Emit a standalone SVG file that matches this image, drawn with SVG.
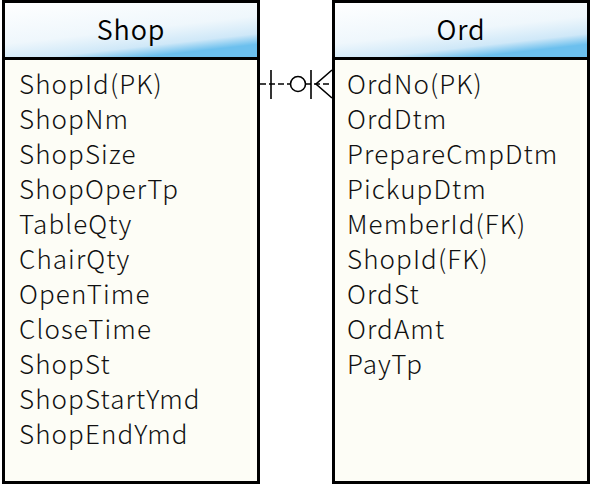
<svg xmlns="http://www.w3.org/2000/svg" width="591" height="486" viewBox="0 0 591 486">
<style>
.box{fill:#fdfdf6;stroke:#000;stroke-width:3}
.hdr{fill:url(#hg);stroke:#000;stroke-width:3}
.t{font-family:"Noto Sans CJK KR","Noto Sans",sans-serif;font-size:26px;font-weight:300;letter-spacing:1.1px;fill:#111}
.h{font-family:"Noto Sans CJK KR","Noto Sans",sans-serif;font-size:27px;font-weight:350;letter-spacing:0.8px;fill:#000;text-anchor:middle}
.c{fill:none;stroke:#000;stroke-width:1.6}
</style>
<defs>
<linearGradient id="hg" x1="0" y1="0" x2="0.5" y2="1">
<stop offset="0" stop-color="#ffffff"/>
<stop offset="0.6" stop-color="#eff7fc"/>
<stop offset="0.85" stop-color="#cfe8f8"/>
<stop offset="1" stop-color="#6cc0ee"/>
</linearGradient>
</defs>
<g id="shop">
<rect class="box" x="3.5" y="1.5" width="255" height="481"/>
<rect class="hdr" x="3.5" y="1.5" width="255" height="57"/>
<text class="h" x="131" y="40">Shop</text>
<text class="t" x="19" y="93.5">ShopId(PK)</text>
<text class="t" x="19" y="128.5">ShopNm</text>
<text class="t" x="19" y="163.5">ShopSize</text>
<text class="t" x="19" y="198.5">ShopOperTp</text>
<text class="t" x="19" y="233.5">TableQty</text>
<text class="t" x="19" y="268.5">ChairQty</text>
<text class="t" x="19" y="303.5">OpenTime</text>
<text class="t" x="19" y="338.5">CloseTime</text>
<text class="t" x="19" y="373.5">ShopSt</text>
<text class="t" x="19" y="408.5">ShopStartYmd</text>
<text class="t" x="19" y="443.5">ShopEndYmd</text>
</g>
<g id="ord">
<rect class="box" x="333.5" y="1.5" width="255" height="481"/>
<rect class="hdr" x="333.5" y="1.5" width="255" height="57"/>
<text class="h" x="461" y="40">Ord</text>
<text class="t" x="347" y="93.5">OrdNo(PK)</text>
<text class="t" x="347" y="128.5">OrdDtm</text>
<text class="t" x="347" y="163.5">PrepareCmpDtm</text>
<text class="t" x="347" y="198.5">PickupDtm</text>
<text class="t" x="347" y="233.5">MemberId(FK)</text>
<text class="t" x="347" y="268.5">ShopId(FK)</text>
<text class="t" x="347" y="303.5">OrdSt</text>
<text class="t" x="347" y="338.5">OrdAmt</text>
<text class="t" x="347" y="373.5">PayTp</text>
</g>
<g id="connectors">
<line class="c" x1="260" y1="84" x2="332" y2="84" stroke-dasharray="6,3"/>
<line class="c" x1="271" y1="70" x2="271" y2="99"/>
<circle cx="298" cy="84" r="7.5" fill="#fff" stroke="#000" stroke-width="1.6"/>
<line class="c" x1="311" y1="70" x2="311" y2="99"/>
<polyline class="c" points="332,70 316,84 332,98"/>
</g>
</svg>
